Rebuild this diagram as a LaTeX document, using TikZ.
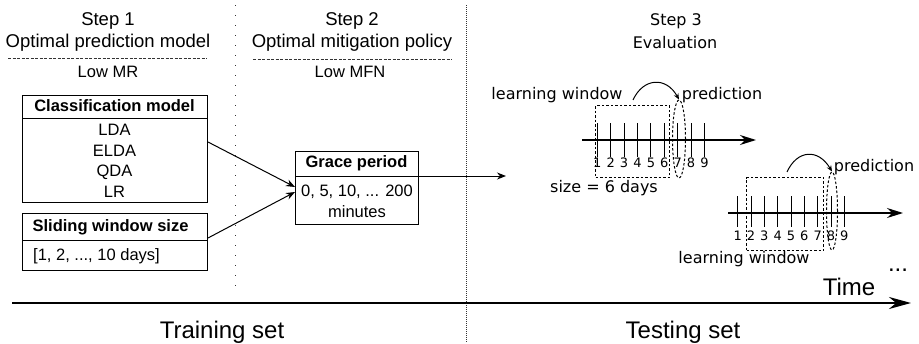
\documentclass[tikz,border=0pt]{standalone}
\usepackage{fontspec}
\setmainfont{Liberation Sans}
\newfontfamily\dvfont{DejaVu Sans}
\usetikzlibrary{arrows.meta,calc,shapes.geometric}
\begin{document}
\begin{tikzpicture}[x=1pt,y=-1pt,
  txt/.style={inner sep=0pt, font=\fontsize{16.5}{18}\selectfont},
  ttl/.style={inner sep=0pt, font=\fontsize{18.5}{20}\selectfont},
  big/.style={inner sep=0pt, font=\fontsize{24}{26}\selectfont},
  hdr/.style={inner sep=0pt, font=\fontsize{16.5}{18}\selectfont\bfseries},
  dvt/.style={inner sep=0pt, font=\dvfont\fontsize{16}{18}\selectfont},
  num/.style={inner sep=0pt, font=\dvfont\fontsize{13}{14}\selectfont},
  boxx/.style={draw, line width=1pt, inner sep=0pt, anchor=north west},
  sep/.style={line width=1pt},
  conn/.style={line width=1pt, -{Stealth[length=9pt,width=7pt]}},
  ttlline/.style={line width=0.8pt, dash pattern=on 3pt off 1.5pt, black!80},
  vsparse/.style={line width=1pt, dash pattern=on 1pt off 9pt, black!80},
  vdense/.style={line width=0.8pt, dash pattern=on 1pt off 1pt, black!80},
  win/.style={line width=1pt, dash pattern=on 2.5pt off 2pt},
  axis/.style={line width=1.3pt, -{Stealth[length=16pt,width=10pt]}},
  tick/.style={line width=1pt},
  jump/.style={line width=1pt, -{Stealth[length=6pt,width=5pt]}},
  ]
\useasboundingbox (0,0) rectangle (919,343);

% separators
\coordinate (v1t) at (235,5);
\coordinate (v1b) at (235,295);
\coordinate (v2t) at (466,5);
\coordinate (v2b) at (466,343);
\draw[vsparse] (v1t) -- (v1b);
\draw[vdense] (v2t) -- (v2b);

% step titles
\node[ttl] (s1) at (108,21) {Step 1};
\node[ttl] (s1b) at (108,43) {Optimal prediction model};
\coordinate (d1a) at (8,58);
\coordinate (d1b) at (207,58);
\draw[ttlline] (d1a) -- (d1b);
\node[txt] (lmr) at (108,72) {Low MR};

\node[ttl] (s2) at (352,21) {Step 2};
\node[ttl] (s2b) at (352,43) {Optimal mitigation policy};
\coordinate (d2a) at (253,59);
\coordinate (d2b) at (452,59);
\draw[ttlline] (d2a) -- (d2b);
\node[txt] (lmfn) at (350,72) {Low MFN};

\node[dvt] (s3) at (676,21) {Step 3};
\node[dvt] (s3b) at (675,43) {Evaluation};

% classification box
\node[boxx, minimum width=185pt, minimum height=107pt] (cls) at (22,95) {};
\draw[sep] ($(cls.north west)+(0,23)$) -- ($(cls.north east)+(0,23)$);
\node[hdr] (clsh) at (114.5,106) {Classification model};
\node[txt] (lda) at (114.5,130) {LDA};
\node[txt] (elda) at (114.5,151) {ELDA};
\node[txt] (qda) at (114.5,172) {QDA};
\node[txt] (lr) at (114.5,192) {LR};

% sliding window box
\node[boxx, minimum width=185pt, minimum height=57pt] (sw) at (22,213) {};
\draw[sep] ($(sw.north west)+(0,27)$) -- ($(sw.north east)+(0,27)$);
\node[hdr] (swh) at (110.5,227) {Sliding window size};
\node[txt, anchor=west] (swv) at (33,256) {[1, 2, ..., 10 days]};

% grace period box
\node[boxx, minimum width=123pt, minimum height=73pt] (gp) at (295,151) {};
\draw[sep] ($(gp.north west)+(0,25)$) -- ($(gp.north east)+(0,25)$);
\node[hdr] (gph) at (356.5,163) {Grace period};
\node[txt] (gpv) at (357,192) {0, 5, 10, ... 200};
\node[txt] (gpm) at (357,212) {minutes};

% connectors
\draw[conn] ($(cls.north east)+(0,47)$) -- ($(gp.north west)+(0,36)$);
\draw[conn] ($(sw.north east)+(0,25)$) -- ($(gp.north west)+(0,41)$);
\coordinate (gpend) at (506,176);
\draw[conn] ($(gp.north east)+(0,25)$) -- (gpend);

% timeline 1
\coordinate (a1s) at (582,140);
\coordinate (a1e) at (756,140);
\draw[axis] (a1s) -- (a1e);
\foreach \i in {1,...,9} {
  \pgfmathsetmacro{\xx}{597.3+13.4*(\i-1)}
  \coordinate (t1a\i) at (\xx,123);
  \coordinate (t1b\i) at (\xx,157);
  \draw[tick] (t1a\i) -- (t1b\i);
  \node[num] (n1\i) at (\xx,163) {\i};
}
\node[draw, win, minimum width=74pt, minimum height=72pt, inner sep=0pt, anchor=north west] (w1) at (595,105) {};
\node[draw, win, ellipse, minimum width=13pt, minimum height=78pt, inner sep=0pt] (e1) at (679,139) {};
\coordinate (c1s) at (633,100);
\draw[jump] (c1s) .. controls (643,78) and (666,76) .. (e1.north);
\node[dvt] (lw1) at (557,95) {learning window};
\node[dvt] (pr1) at (722,95) {prediction};
\node[dvt] (sz) at (604,188) {size = 6 days};

% timeline 2
\coordinate (a2s) at (728,213);
\coordinate (a2e) at (903,213);
\draw[axis] (a2s) -- (a2e);
\foreach \i in {1,...,9} {
  \pgfmathsetmacro{\xx}{737.7+13.33*(\i-1)}
  \coordinate (t2a\i) at (\xx,196);
  \coordinate (t2b\i) at (\xx,227);
  \draw[tick] (t2a\i) -- (t2b\i);
  \node[num] (n2\i) at (\xx,236) {\i};
}
\node[draw, win, minimum width=77pt, minimum height=73pt, inner sep=0pt, anchor=north west] (w2) at (746,177) {};
\node[draw, win, ellipse, minimum width=11pt, minimum height=78pt, inner sep=0pt] (e2) at (832,211) {};
\coordinate (c2s) at (787,172);
\draw[jump] (c2s) .. controls (797,150) and (818,148) .. (e2.north);
\node[dvt] (pr2) at (874,167) {prediction};
\node[dvt] (lw2) at (744,259) {learning window};

% time axis
\coordinate (ts) at (12,303);
\coordinate (te) at (911,303);
\draw[line width=2.5pt, -{Stealth[length=22pt,width=12pt]}] (ts) -- (te);
\node[big] (time) at (849,287) {Time};
\node[big, anchor=base] (dots) at (898,271) {...};
\node[big] (train) at (222,332) {Training set};
\node[big] (test) at (683,332) {Testing set};
\end{tikzpicture}
\end{document}
